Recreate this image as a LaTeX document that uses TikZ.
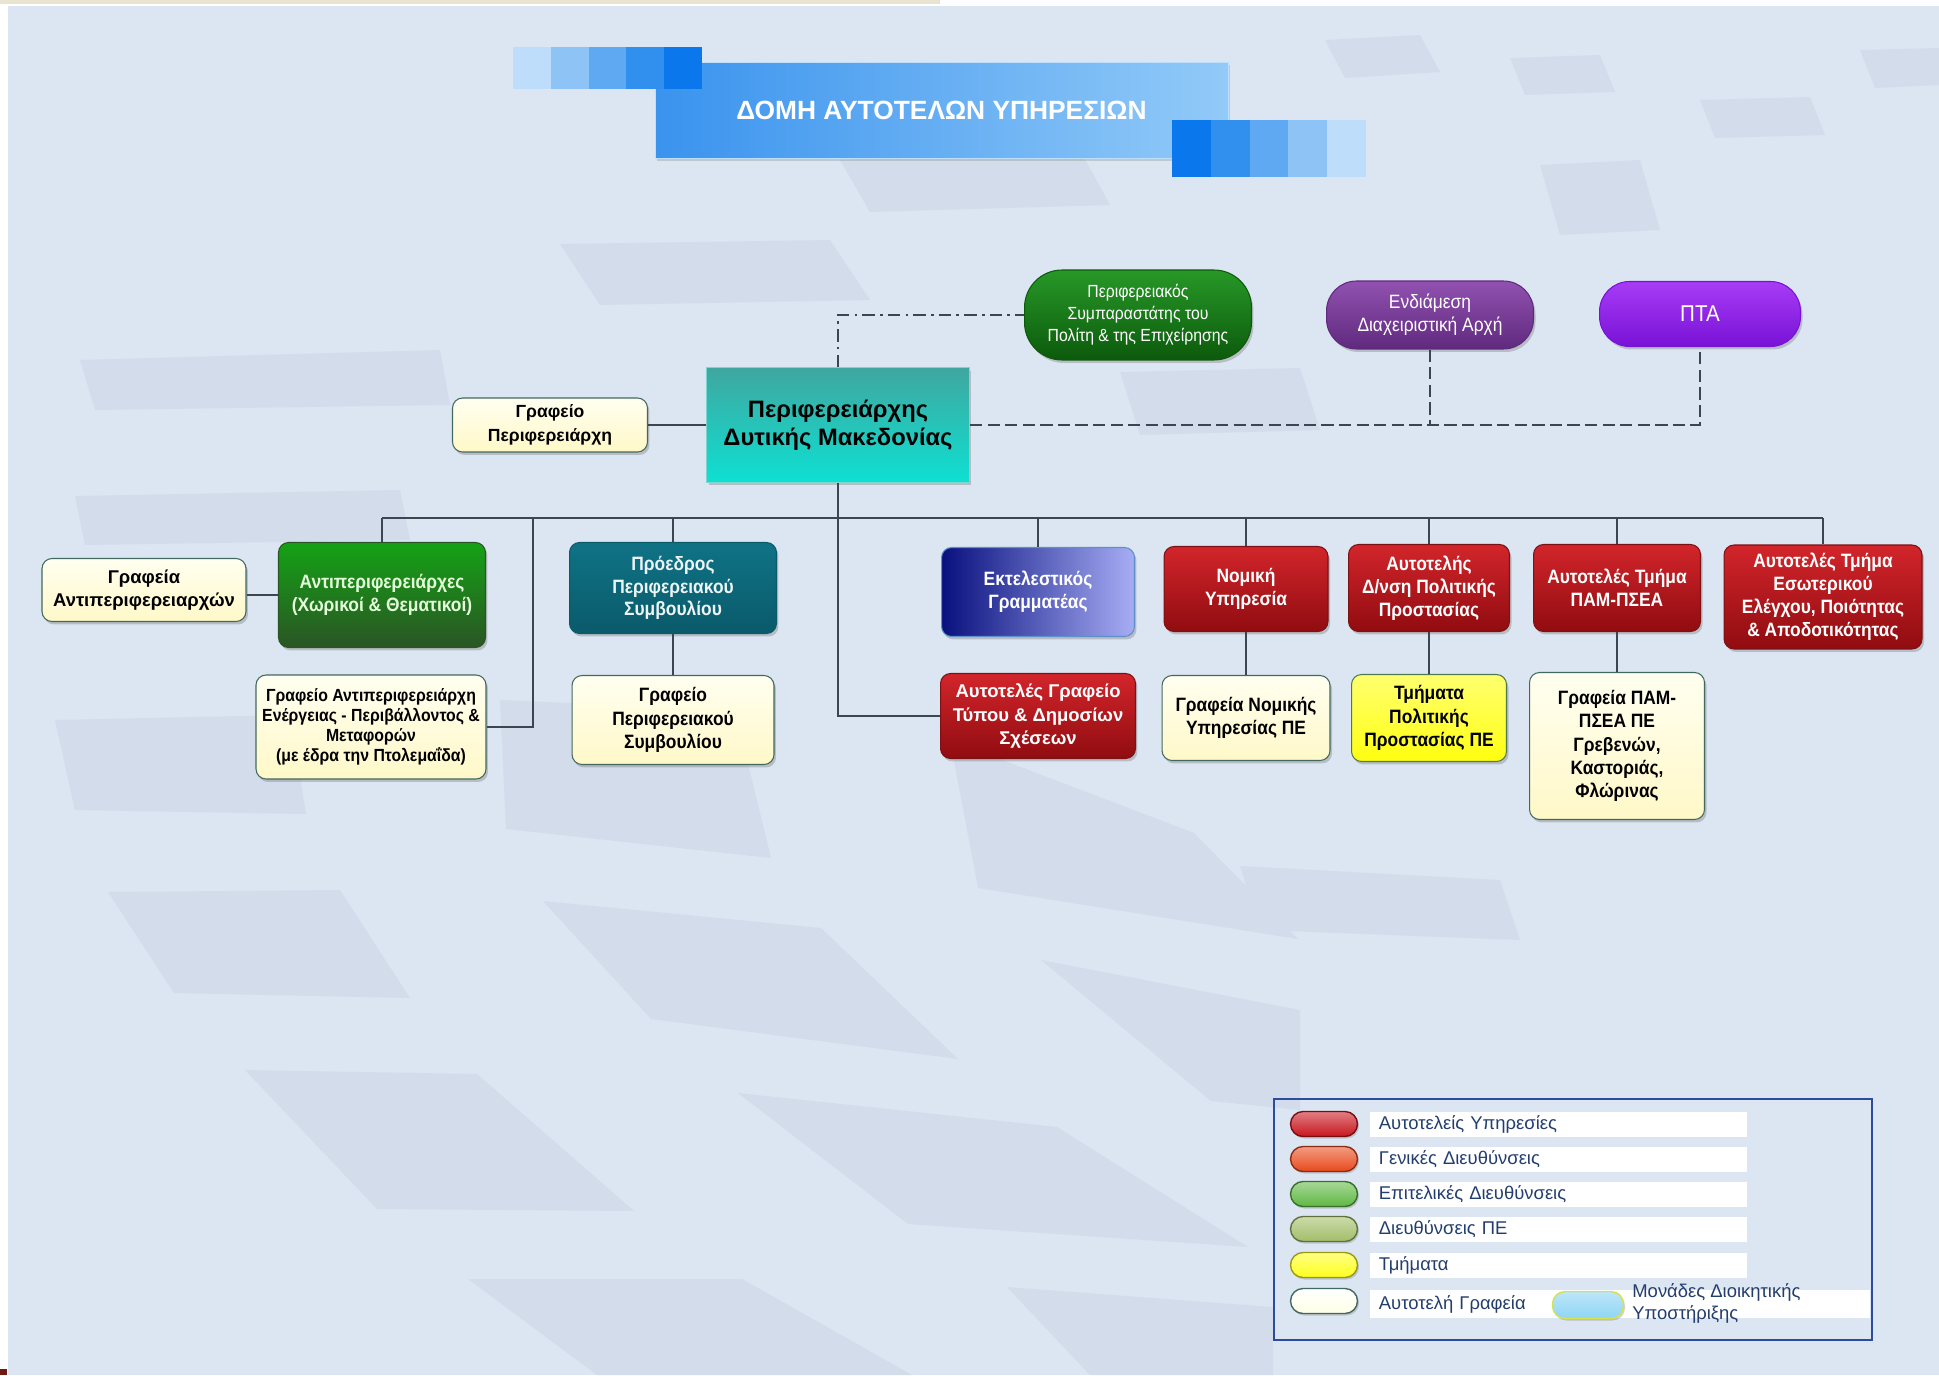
\documentclass[tikz,border=0pt]{standalone}
\usepackage{fontspec}
\setmainfont{Liberation Sans}
\newfontfamily\narrowfont[FakeStretch=0.9]{Liberation Sans}
\usetikzlibrary{shadows,shadings}

\definecolor{bgblue}{HTML}{DCE6F2}
\definecolor{tilecol}{HTML}{D2DCEB}
\definecolor{topline}{HTML}{E9E4D2}
\definecolor{cornerred}{HTML}{6E1A14}
\definecolor{linegray}{HTML}{3C4650}
\definecolor{titleA}{HTML}{3A93EE}
\definecolor{titleB}{HTML}{92CAF8}
\definecolor{sqA}{HTML}{BEDDFB}
\definecolor{sqB}{HTML}{8EC3F5}
\definecolor{sqC}{HTML}{5EA9F1}
\definecolor{sqD}{HTML}{3190EE}
\definecolor{sqE}{HTML}{0A78EC}
\definecolor{tealA}{HTML}{3FA79F}
\definecolor{tealB}{HTML}{0EE0D3}
\definecolor{tealline}{HTML}{7AD6CF}
\definecolor{creamA}{HTML}{FFFFF0}
\definecolor{creamB}{HTML}{FFF8C8}
\definecolor{creamline}{HTML}{41695F}
\definecolor{yelA}{HTML}{FFFF70}
\definecolor{yelB}{HTML}{FFFF10}
\definecolor{yelline}{HTML}{4E7A52}
\definecolor{redA}{HTML}{D2252B}
\definecolor{redB}{HTML}{900C10}
\definecolor{redline}{HTML}{7C1214}
\definecolor{sympA}{HTML}{279827}
\definecolor{sympB}{HTML}{0C5A0C}
\definecolor{antiA}{HTML}{15A215}
\definecolor{antiB}{HTML}{2A5525}
\definecolor{antitext}{HTML}{E4FFDA}
\definecolor{purpA}{HTML}{9151B0}
\definecolor{purpB}{HTML}{5F2A7E}
\definecolor{violA}{HTML}{A83CF6}
\definecolor{violB}{HTML}{7812D6}
\definecolor{proA}{HTML}{0F7385}
\definecolor{proB}{HTML}{0A5A6A}
\definecolor{ektA}{HTML}{08107E}
\definecolor{ektB}{HTML}{A7ADF4}
\definecolor{ektline}{HTML}{5E8FC8}
\definecolor{legline}{HTML}{2C4D9C}
\definecolor{legtext}{HTML}{233E6E}
\definecolor{legRed}{HTML}{C8161E}
\definecolor{legOrange}{HTML}{E84A1C}
\definecolor{legGreen}{HTML}{5FB843}
\definecolor{legOlive}{HTML}{A2BD68}
\definecolor{legYellow}{HTML}{FFFF1E}
\definecolor{legCream}{HTML}{FFFFE6}
\definecolor{legBlue}{HTML}{8FD5F4}
\definecolor{legBlueline}{HTML}{D6E24A}

\begin{document}
\begin{tikzpicture}[x=0.02cm, y=-0.02cm,
    every node/.style={align=center, inner sep=0pt},
    conn/.style={draw=linegray, line width=0.8pt},
    bgtile/.style={fill=tilecol},
    box/.style={rounded corners=0.2cm, line width=0.6pt,
        drop shadow={shadow xshift=0.04cm, shadow yshift=-0.06cm, opacity=0.4}},
    red node/.style={box, draw=redline, top color=redA, bottom color=redB, text=white,
        font=\narrowfont\bfseries\fontsize{11}{13}\selectfont},
    cream node/.style={box, draw=creamline, top color=creamA, bottom color=creamB, text=black,
        font=\narrowfont\bfseries\fontsize{11}{13.2}\selectfont},
    pill/.style={box, rounded corners=0.6cm, text=white,
        font=\narrowfont\fontsize{11}{13.3}\selectfont},
    legpill/.style={rounded corners=0.25cm, minimum width=1.34cm, minimum height=0.5cm, line width=0.8pt,
        drop shadow={shadow xshift=0.03cm, shadow yshift=-0.04cm, opacity=0.35}},
    legbar/.style={fill=white, minimum height=0.5cm, inner xsep=0.17cm, text width=7.2cm, align=left,
        text=legtext, font=\fontsize{10.5}{12.5}\selectfont}]

\useasboundingbox (0,0) rectangle (1939,1375);
\fill[white] (0,0) rectangle (1939,1375);
\fill[bgblue] (8,6) rectangle (1939,1375);
\fill[topline] (0,0) rectangle (940,4);
\fill[cornerred] (0,1369) rectangle (7,1375);

% background tiles
\fill[bgtile] (560,244) -- (830,240) -- (870,300) -- (600,305) -- cycle;
\fill[bgtile] (840,160) -- (1080,150) -- (1110,205) -- (870,212) -- cycle;
\fill[bgtile] (1325,40) -- (1420,35) -- (1440,72) -- (1345,78) -- cycle;
\fill[bgtile] (1510,58) -- (1600,55) -- (1615,92) -- (1525,95) -- cycle;
\fill[bgtile] (1700,100) -- (1810,97) -- (1825,135) -- (1715,138) -- cycle;
\fill[bgtile] (1860,50) -- (1939,48) -- (1939,85) -- (1875,88) -- cycle;
\fill[bgtile] (1540,165) -- (1640,160) -- (1660,230) -- (1560,235) -- cycle;
\fill[bgtile] (1120,372) -- (1300,368) -- (1320,430) -- (1140,435) -- cycle;
\fill[bgtile] (80,360) -- (440,350) -- (450,405) -- (95,410) -- cycle;
\fill[bgtile] (75,496) -- (400,490) -- (410,540) -- (85,545) -- cycle;
\fill[bgtile] (1240,866) -- (1500,880) -- (1520,940) -- (1260,930) -- cycle;
\fill[bgtile] (55,720) -- (290,715) -- (306,814) -- (75,810) -- cycle;
\fill[bgtile] (500,700) -- (735,710) -- (771,858) -- (506,829) -- cycle;
\fill[bgtile] (950,740) -- (1194,833) -- (1298,939) -- (978,888) -- cycle;
\fill[bgtile] (108,892) -- (340,890) -- (410,998) -- (174,993) -- cycle;
\fill[bgtile] (543,901) -- (821,928) -- (958,1059) -- (651,1019) -- cycle;
\fill[bgtile] (1041,960) -- (1300,1010) -- (1300,1110) -- (1211,1101) -- cycle;
\fill[bgtile] (245,1070) -- (477,1074) -- (634,1211) -- (377,1209) -- cycle;
\fill[bgtile] (738,1093) -- (1057,1127) -- (1248,1247) -- (908,1224) -- cycle;
\fill[bgtile] (468,1279) -- (742,1279) -- (912,1375) -- (597,1375) -- cycle;
\fill[bgtile] (1007,1287) -- (1273,1307) -- (1273,1375) -- (1090,1375) -- cycle;

% title banner
\node[minimum width=11.46cm, minimum height=1.92cm, left color=titleA, right color=titleB,
    draw=titleB!60!white, line width=0.5pt, text=white, font=\bfseries\fontsize{15}{18}\selectfont,
    drop shadow={shadow xshift=0.04cm, shadow yshift=-0.06cm, opacity=0.3}]
    (title) at (941.5,110) {ΔΟΜΗ ΑΥΤΟΤΕΛΩΝ ΥΠΗΡΕΣΙΩΝ};
\foreach \c [count=\i from 0] in {sqA,sqB,sqC,sqD,sqE}
    \fill[\c] ({513+37.8*\i},47) rectangle ++(37.8,42);
\foreach \c [count=\i from 0] in {sqE,sqD,sqC,sqB,sqA}
    \fill[\c] ({1172+38.8*\i},120) rectangle ++(38.8,57);

% top level
\node[box, sharp corners, minimum width=5.26cm, minimum height=2.3cm, top color=tealA, bottom color=tealB,
    draw=tealline, font=\bfseries\fontsize{13.5}{16.2}\selectfont] (per) at (838,425) {Περιφερειάρχης\\Δυτικής Μακεδονίας};
\node[cream node, font=\bfseries\fontsize{10}{13.3}\selectfont, minimum width=3.9cm, minimum height=1.08cm]
    (grafPer) at (550,425) {Γραφείο\\Περιφερειάρχη};
\node[pill, rounded corners=0.75cm, top color=sympA, bottom color=sympB, draw=sympB,
    font=\narrowfont\fontsize{10}{12.5}\selectfont, minimum width=4.54cm, minimum height=1.8cm]
    (sympar) at (1138,315) {Περιφερειακός\\Συμπαραστάτης του\\Πολίτη \& της Επιχείρησης};
\node[pill, top color=purpA, bottom color=purpB, draw=purpB, minimum width=4.14cm, minimum height=1.36cm]
    (endiam) at (1430,315) {Ενδιάμεση\\Διαχειριστική Αρχή};
\node[pill, top color=violA, bottom color=violB, draw=violB, font=\narrowfont\fontsize{13}{15}\selectfont,
    minimum width=4.02cm, minimum height=1.3cm] (pta) at (1700,314) {ΠΤΑ};

% second level
\node[cream node, font=\bfseries\fontsize{10.5}{13.3}\selectfont, minimum width=4.08cm, minimum height=1.26cm]
    (grafAnt) at (144,590) {Γραφεία\\Αντιπεριφερειαρχών};
\node[box, top color=antiA, bottom color=antiB, draw=antiB, text=antitext,
    font=\narrowfont\bfseries\fontsize{11}{13.3}\selectfont, minimum width=4.14cm, minimum height=2.1cm]
    (antiper) at (382,595) {Αντιπεριφερειάρχες\\(Χωρικοί \& Θεματικοί)};
\node[box, top color=proA, bottom color=proB, draw=proB, text=white!92!proA,
    font=\narrowfont\bfseries\fontsize{11}{13}\selectfont, minimum width=4.14cm, minimum height=1.82cm]
    (proedros) at (673,588) {Πρόεδρος\\Περιφερειακού\\Συμβουλίου};
\node[box, left color=ektA, right color=ektB, draw=ektline, text=white,
    font=\narrowfont\bfseries\fontsize{11}{13.3}\selectfont, minimum width=3.86cm, minimum height=1.78cm]
    (ektel) at (1038,592) {Εκτελεστικός\\Γραμματέας};
\node[red node, minimum width=3.28cm, minimum height=1.7cm] (nomiki) at (1246,589) {Νομική\\Υπηρεσία};
\node[red node, minimum width=3.22cm, minimum height=1.74cm] (politProst) at (1429,588) {Αυτοτελής\\Δ/νση Πολιτικής\\Προστασίας};
\node[red node, minimum width=3.34cm, minimum height=1.74cm] (pam) at (1617,588) {Αυτοτελές Τμήμα\\ΠΑΜ-ΠΣΕΑ};
\node[red node, minimum width=3.96cm, minimum height=2.08cm] (eswt) at (1823,597)
    {Αυτοτελές Τμήμα\\Εσωτερικού\\Ελέγχου, Ποιότητας\\\& Αποδοτικότητας};

% third level
\node[cream node, font=\narrowfont\bfseries\fontsize{10}{11.3}\selectfont, minimum width=4.6cm, minimum height=2.08cm]
    (grafEnerg) at (371,727) {Γραφείο Αντιπεριφερειάρχη\\Ενέργειας - Περιβάλλοντος \&\\Μεταφορών\\(με έδρα την Πτολεμαΐδα)};
\node[cream node, minimum width=4.04cm, minimum height=1.78cm] (grafPS) at (673,720) {Γραφείο\\Περιφερειακού\\Συμβουλίου};
\node[red node, font=\bfseries\fontsize{10.5}{13.3}\selectfont, minimum width=3.9cm, minimum height=1.7cm]
    (typou) at (1038,716) {Αυτοτελές Γραφείο\\Τύπου \& Δημοσίων\\Σχέσεων};
\node[cream node, minimum width=3.36cm, minimum height=1.7cm] (grafNom) at (1246,718) {Γραφεία Νομικής\\Υπηρεσίας ΠΕ};
\node[cream node, top color=yelA, bottom color=yelB, draw=yelline, minimum width=3.1cm, minimum height=1.74cm]
    (tmPP) at (1429,718) {Τμήματα\\Πολιτικής\\Προστασίας ΠΕ};
\node[cream node, minimum width=3.5cm, minimum height=2.94cm] (grafPam) at (1617,746)
    {Γραφεία ΠΑΜ-\\ΠΣΕΑ ΠΕ\\Γρεβενών,\\Καστοριάς,\\Φλώρινας};

% connectors
\coordinate (bus) at (838,518);
\coordinate (split) at (533,518);
\draw[conn] (grafPer) -- (per);
\draw[conn, dash pattern=on 7pt off 3pt on 1.5pt off 3pt] (per.north) |- (sympar.west);
\draw[conn, dash pattern=on 7pt off 3pt] (per.east) -| (pta.south);
\draw[conn, dash pattern=on 7pt off 3pt] (endiam.south) -- (endiam.south |- per.east);
\draw[conn] (antiper.north |- bus) -- (eswt.north |- bus);
\draw[conn] (per.south) |- (typou.west);
\draw[conn] (split) |- (grafEnerg.east);
\foreach \n in {antiper,proedros,ektel,nomiki,politProst,pam,eswt}
    \draw[conn] (\n.north |- bus) -- (\n.north);
\draw[conn] (antiper.west) -- (antiper.west -| grafAnt.east);
\draw[conn] (proedros) -- (grafPS);
\draw[conn] (nomiki) -- (grafNom);
\draw[conn] (politProst) -- (tmPP);
\draw[conn] (pam) -- (grafPam);

% legend
\node[draw=legline, line width=1.2pt, minimum width=11.96cm, minimum height=4.82cm] (legend) at (1573,1219.5) {};
\foreach \c/\y/\t [count=\i] in {legRed/1124/Αυτοτελείς Υπηρεσίες, legOrange/1159/Γενικές Διευθύνσεις,
        legGreen/1194/Επιτελικές Διευθύνσεις, legOlive/1229/Διευθύνσεις ΠΕ, legYellow/1265/Τμήματα} {
    \node[legpill, top color=\c!55!white, bottom color=\c, draw=\c!60!black] (key\i) at (1324,\y) {};
    \node[legbar, anchor=west] (lab\i) at (1370,\y) {\t};
}
\node[legpill, top color=white, bottom color=legCream, draw=creamline] (key6) at (1324,1301) {};
\node[legbar, anchor=west, text width=9.66cm, minimum height=0.56cm] (lab6) at (1370,1304) {Αυτοτελή Γραφεία};
\node[legpill, top color=legBlue!60!white, bottom color=legBlue, draw=legBlueline, minimum width=1.42cm,
    minimum height=0.54cm] (key7) at (1588,1305) {};
\node[anchor=west, align=left, text=legtext, font=\fontsize{10.5}{12.5}\selectfont] (lab7) at (1632,1303)
    {Μονάδες Διοικητικής\\Υποστήριξης};
\end{tikzpicture}
\end{document}
